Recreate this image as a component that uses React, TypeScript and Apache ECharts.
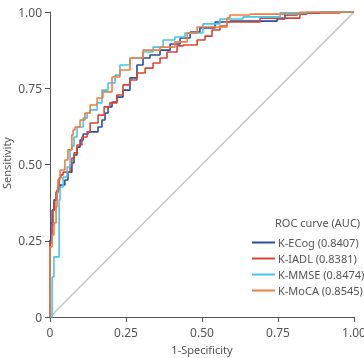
import React, { useEffect, useRef } from "react";
import * as echarts from "echarts";

// ROC curve vertices [1-specificity, sensitivity] for each screening tool
const ecogRoc: [number, number][] = [
  [0, 0], [0, 0.197], [0.003, 0.252], [0.007, 0.308], [0.013, 0.351], [0.02, 0.384],
  [0.026, 0.41], [0.033, 0.426], [0.049, 0.433], [0.059, 0.449], [0.072, 0.475],
  [0.079, 0.505], [0.089, 0.531], [0.099, 0.557], [0.109, 0.58], [0.125, 0.6],
  [0.158, 0.607], [0.171, 0.623], [0.181, 0.646], [0.191, 0.669], [0.204, 0.689],
  [0.22, 0.705], [0.24, 0.721], [0.263, 0.744], [0.286, 0.784], [0.306, 0.826],
  [0.329, 0.849], [0.362, 0.859], [0.395, 0.875], [0.428, 0.895], [0.461, 0.915],
  [0.493, 0.934], [0.543, 0.948], [0.592, 0.967], [0.747, 0.97], [0.773, 0.977],
  [0.813, 0.99], [0.888, 0.997], [1, 1],
];
const iadlRoc: [number, number][] = [
  [0, 0], [0, 0.22], [0.007, 0.243], [0.01, 0.302], [0.016, 0.351], [0.023, 0.384],
  [0.03, 0.416], [0.036, 0.456], [0.043, 0.466], [0.066, 0.475], [0.072, 0.498],
  [0.079, 0.521], [0.089, 0.538], [0.105, 0.564], [0.122, 0.59], [0.132, 0.607],
  [0.158, 0.636], [0.178, 0.662], [0.197, 0.689], [0.22, 0.702], [0.24, 0.728],
  [0.263, 0.761], [0.286, 0.777], [0.313, 0.8], [0.339, 0.816], [0.362, 0.833],
  [0.385, 0.849], [0.418, 0.869], [0.438, 0.889], [0.484, 0.892], [0.51, 0.908],
  [0.533, 0.921], [0.559, 0.941], [0.582, 0.954], [0.691, 0.967], [0.822, 0.98],
  [0.845, 0.993], [0.954, 0.997], [1, 1],
];
const mmseRoc: [number, number][] = [
  [0, 0], [0.007, 0], [0.007, 0.131], [0.013, 0.131], [0.013, 0.197], [0.03, 0.197],
  [0.03, 0.351], [0.033, 0.384], [0.043, 0.426], [0.056, 0.459], [0.066, 0.492],
  [0.072, 0.548], [0.079, 0.561], [0.089, 0.59], [0.109, 0.623], [0.122, 0.652],
  [0.132, 0.669], [0.155, 0.679], [0.171, 0.702], [0.191, 0.744], [0.214, 0.767],
  [0.23, 0.793], [0.263, 0.826], [0.306, 0.849], [0.339, 0.869], [0.372, 0.885],
  [0.411, 0.908], [0.444, 0.918], [0.503, 0.931], [0.559, 0.961], [0.635, 0.977],
  [0.757, 0.984], [0.845, 0.997], [1, 1],
];
const mocaRoc: [number, number][] = [
  [0, 0], [0, 0.21], [0.007, 0.23], [0.013, 0.269], [0.02, 0.308], [0.023, 0.361],
  [0.026, 0.407], [0.033, 0.449], [0.049, 0.482], [0.059, 0.515], [0.072, 0.548],
  [0.076, 0.597], [0.082, 0.613], [0.099, 0.623], [0.115, 0.646], [0.132, 0.669],
  [0.155, 0.695], [0.174, 0.718], [0.204, 0.738], [0.23, 0.787], [0.263, 0.81],
  [0.306, 0.849], [0.362, 0.875], [0.411, 0.885], [0.451, 0.902], [0.484, 0.931],
  [0.582, 0.951], [0.592, 0.98], [0.658, 0.99], [0.822, 0.993], [1, 1],
];
const referenceLine: [number, number][] = [[0, 0], [1, 1]];

const seriesNames = ["K-ECog (0.8407)", "K-IADL (0.8381)", "K-MMSE (0.8474)", "K-MoCA (0.8545)"];
const seriesColors = ["#2d4d9e", "#dc4432", "#45c6ec", "#f07e3e"];
const axisTicks = [0, 0.25, 0.5, 0.75, 1];

const FONT = "'Noto Sans', 'Open Sans', sans-serif";

export default function App() {
  const ref = useRef<HTMLDivElement>(null);

  useEffect(() => {
    if (!ref.current) return;
    const chart = echarts.init(ref.current, undefined, { renderer: "svg" });
    const fmt = (v: number) => (v === 0 ? "0" : v.toFixed(2));
    const axisCommon = {
      type: "value" as const,
      min: axisTicks[0],
      max: axisTicks[axisTicks.length - 1],
      interval: 0.25,
      splitLine: { show: false },
      axisLine: { show: true, lineStyle: { color: "#555", width: 1 } },
      axisTick: { show: true, length: 5, lineStyle: { color: "#555" } },
      axisLabel: { formatter: fmt, color: "#555", fontSize: 12, fontFamily: FONT },
      nameLocation: "middle" as const,
      nameTextStyle: { color: "#555", fontSize: 11, fontFamily: FONT },
    };
    const curves = [ecogRoc, iadlRoc, mmseRoc, mocaRoc];
    chart.setOption({
      animation: false,
      grid: { left: 50, top: 12, width: 304, height: 305, containLabel: false, outerBoundsMode: "none" },
      xAxis: { ...axisCommon, name: "1-Specificity", nameGap: 27, axisLabel: { ...axisCommon.axisLabel, margin: 9 } },
      yAxis: { ...axisCommon, axisLabel: { ...axisCommon.axisLabel, margin: 8 } },
      legend: {
        data: seriesNames,
        orient: "vertical",
        left: 247,
        top: 232,
        icon: "rect",
        itemWidth: 23,
        itemHeight: 2,
        itemGap: 5,
        textStyle: { color: "#555", fontSize: 11, fontFamily: FONT, padding: [0, 0, 0, -2] },
      },
      graphic: [
        {
          type: "text",
          left: 275,
          top: 217,
          style: { text: "ROC curve (AUC)", fill: "#555", fontSize: 11, fontFamily: FONT },
        },
        {
          type: "text",
          x: 6,
          y: 163,
          rotation: Math.PI / 2,
          style: {
            text: "Sensitivity",
            fill: "#555",
            fontSize: 11,
            fontFamily: FONT,
            align: "center",
            verticalAlign: "middle",
          },
        },
      ],
      series: [
        {
          type: "line",
          data: referenceLine,
          symbol: "none",
          silent: true,
          lineStyle: { color: "#c4c4c4", width: 1.5 },
        },
        ...curves.map((d, i) => ({
          name: seriesNames[i],
          type: "line",
          data: d,
          step: "start",
          symbol: "none",
          color: seriesColors[i],
          lineStyle: { color: seriesColors[i], width: 1.6 },
        })),
      ],
    });
    return () => chart.dispose();
  }, []);

  return <div ref={ref} style={{ position: "fixed", left: 0, top: 0, width: 364, height: 358 }} />;
}
